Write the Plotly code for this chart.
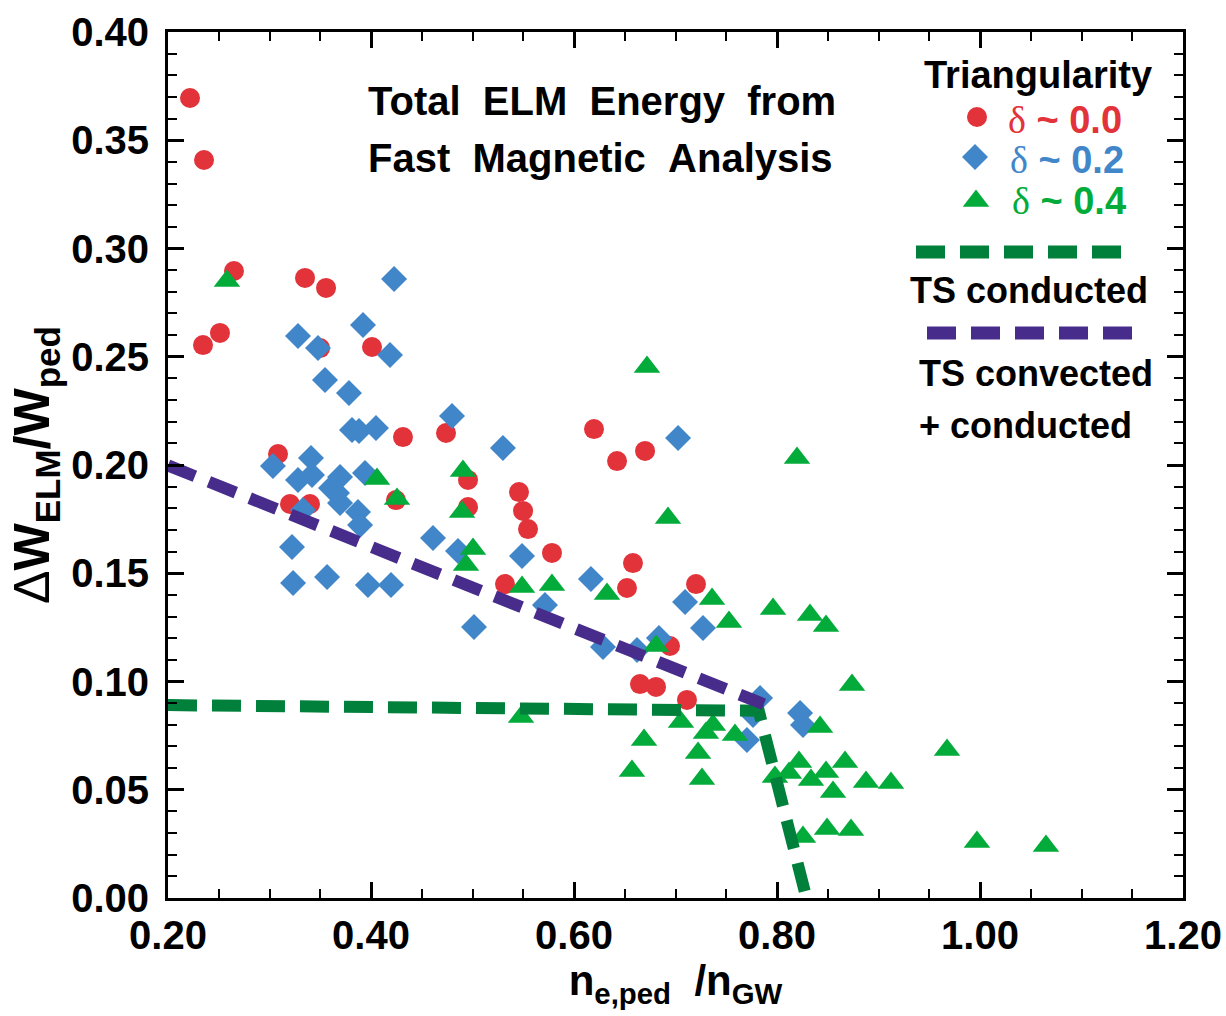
import plotly.graph_objects as go

# ---- data: normalized pedestal density vs. ELM energy fraction ----
# delta ~ 0.0
red_x = [0.2217, 0.2355, 0.2650, 0.2345, 0.2512, 0.3350, 0.3557, 0.3498, 0.4010, 0.3084,
         0.3202, 0.3399, 0.4246, 0.4315, 0.4739, 0.4956, 0.4956, 0.5320, 0.5458, 0.5498,
         0.5547, 0.5783, 0.6197, 0.6424, 0.6700, 0.6581, 0.6522, 0.7202, 0.6946, 0.6650,
         0.6808, 0.7113]
red_y = [0.3695, 0.3409, 0.2896, 0.2554, 0.2610, 0.2864, 0.2818, 0.2540, 0.2545, 0.2051,
         0.1820, 0.1820, 0.1838, 0.2129, 0.2148, 0.1931, 0.1806, 0.1450, 0.1875, 0.1788,
         0.1704, 0.1594, 0.2166, 0.2018, 0.2065, 0.1547, 0.1432, 0.1450, 0.1164, 0.0988,
         0.0975, 0.0915]

# delta ~ 0.2
blue_x = [0.4227, 0.3921, 0.3281, 0.3478, 0.4187, 0.3547, 0.3783, 0.3813, 0.3882, 0.4049,
          0.4798, 0.5300, 0.7025, 0.3034, 0.3409, 0.3281, 0.3419, 0.3695, 0.3606, 0.3665,
          0.3695, 0.3941, 0.3872, 0.3892, 0.3330, 0.3222, 0.3232, 0.3567, 0.3970, 0.4197,
          0.4611, 0.4857, 0.5488, 0.5714, 0.6167, 0.7094, 0.7271, 0.5015, 0.6286, 0.6621,
          0.6837, 0.7833, 0.7764, 0.7704, 0.8227, 0.8256]
blue_y = [0.2859, 0.2647, 0.2596, 0.2540, 0.2508, 0.2393, 0.2333, 0.2162, 0.2157, 0.2171,
          0.2226, 0.2079, 0.2125, 0.1995, 0.2032, 0.1931, 0.1954, 0.1945, 0.1894, 0.1871,
          0.1824, 0.1963, 0.1783, 0.1723, 0.1792, 0.1621, 0.1455, 0.1483, 0.1446, 0.1446,
          0.1663, 0.1603, 0.1580, 0.1353, 0.1473, 0.1367, 0.1247, 0.1252, 0.1159, 0.1146,
          0.1201, 0.0924, 0.0845, 0.0730, 0.0855, 0.0799]

# delta ~ 0.4
green_x = [0.2581, 0.4059, 0.4256, 0.6719, 0.4906, 0.4897, 0.5005, 0.4936, 0.5488, 0.5783,
           0.6926, 0.6325, 0.7360, 0.7527, 0.7961, 0.8325, 0.8483, 0.6808, 0.8739, 0.7054,
           0.7369, 0.7300, 0.7586, 0.6690, 0.7222, 0.6571, 0.7261, 0.8424, 0.8217, 0.8118,
           0.7980, 0.8670, 0.8483, 0.8335, 0.8552, 0.8877, 0.9123, 0.8256, 0.8493, 0.8729,
           0.9675, 0.9970, 1.0650, 0.8197, 0.5478]
green_y = [0.2850, 0.1935, 0.1843, 0.2453, 0.1972, 0.1783, 0.1612, 0.1538, 0.1436, 0.1446,
           0.1755, 0.1404, 0.1381, 0.1275, 0.1335, 0.1307, 0.1256, 0.1164, 0.0984, 0.0813,
           0.0799, 0.0762, 0.0753, 0.0730, 0.0670, 0.0587, 0.0550, 0.0790, 0.0628, 0.0577,
           0.0559, 0.0628, 0.0582, 0.0545, 0.0490, 0.0536, 0.0531, 0.0282, 0.0319, 0.0314,
           0.0684, 0.0259, 0.0240, 0.2032, 0.0836]

# model curves
conducted_x = [0.20, 0.782, 0.829]
conducted_y = [0.0891, 0.0865, 0.0]
convected_x = [0.20, 0.787]
convected_y = [0.1998, 0.0895]

legend_labels = ["0.0", "0.2", "0.4"]

# ---- styling ----
RED = "#E2323A"
BLUE = "#4186C8"
GREEN = "#03AB3B"
DKGREEN = "#00803A"
PURPLE = "#482C8C"
SANS = "Liberation Sans Narrow, Liberation Sans, Arial, sans-serif"
SERIF = "Liberation Serif, DejaVu Serif, serif"
DASH = "29px,15px"

W, H = 1226, 1016
L, R, T, B = 168, 43, 32, 118
PW, PH = W - L - R, H - T - B
X0, X1, Y0, Y1 = 0.2, 1.2, 0.0, 0.4


def to_x(px):
    return X0 + (px - L) / PW * (X1 - X0)


def to_y(py):
    return Y0 + (H - B - py) / PH * (Y1 - Y0)


fig = go.Figure()

fig.add_trace(go.Scatter(x=red_x, y=red_y, mode="markers", cliponaxis=False,
                         marker=dict(symbol="circle", size=20, color=RED)))
fig.add_trace(go.Scatter(x=blue_x, y=blue_y, mode="markers", cliponaxis=False,
                         marker=dict(symbol="diamond", size=20, color=BLUE)))
fig.add_trace(go.Scatter(x=green_x, y=green_y, mode="markers", cliponaxis=False,
                         marker=dict(symbol="triangle-up", size=23, color=GREEN)))

fig.add_trace(go.Scatter(x=conducted_x, y=conducted_y, mode="lines",
                         line=dict(color=DKGREEN, width=12, dash=DASH)))
fig.add_trace(go.Scatter(x=convected_x, y=convected_y, mode="lines",
                         line=dict(color=PURPLE, width=12, dash=DASH)))

# legend keys (symbols)
fig.add_trace(go.Scatter(x=[to_x(977)], y=[to_y(117)], mode="markers", cliponaxis=False,
                         marker=dict(symbol="circle", size=20, color=RED)))
fig.add_trace(go.Scatter(x=[to_x(975)], y=[to_y(157)], mode="markers", cliponaxis=False,
                         marker=dict(symbol="diamond", size=20, color=BLUE)))
fig.add_trace(go.Scatter(x=[to_x(976)], y=[to_y(201)], mode="markers", cliponaxis=False,
                         marker=dict(symbol="triangle-up", size=23, color=GREEN)))

# legend keys (dashed lines)
fig.add_shape(type="line", xref="x", yref="y", x0=to_x(916), x1=to_x(1122),
              y0=to_y(252), y1=to_y(252), line=dict(color=DKGREEN, width=13, dash=DASH))
fig.add_shape(type="line", xref="x", yref="y", x0=to_x(927), x1=to_x(1133),
              y0=to_y(333), y1=to_y(333), line=dict(color=PURPLE, width=13, dash=DASH))


def note(text, px, py, size=40, color="black", anchor="center"):
    fig.add_annotation(text=text, x=to_x(px), y=to_y(py), xref="x", yref="y",
                       showarrow=False, xanchor=anchor, yanchor="middle",
                       font=dict(family=SANS, size=size, color=color, weight="bold"))


SP = "\u00a0\u00a0"
note(f"Total{SP}ELM{SP}Energy{SP}from", 366, 101, size=40, anchor="left")
note(f"Fast{SP}Magnetic{SP}Analysis", 366, 158, size=40, anchor="left")

note("Triangularity", 1038, 75, size=38)
for lab, col, px, py in zip(legend_labels, [RED, BLUE, GREEN], [1006, 1008, 1010], [120, 160, 201]):
    note(f"<span style='font-family:{SERIF};font-weight:normal'>δ</span> ~ {lab}",
         px, py, size=38, color=col, anchor="left")
note("TS conducted", 1029, 290, size=36)
note("TS convected", 1036, 373, size=36)
note("+ conducted", 1025, 425, size=36)

axis_common = dict(
    showline=True, linecolor="black", linewidth=3, mirror="allticks",
    ticks="inside", ticklen=16, tickwidth=2.5, tickcolor="black",
    showgrid=False, zeroline=False, tickformat=".2f",
    tickfont=dict(family=SANS, size=40, color="black", weight="bold"),
)

fig.update_xaxes(range=[X0, X1], dtick=0.2, tick0=0.2,
                 minor=dict(dtick=0.05, ticks="inside", ticklen=9, tickwidth=2, tickcolor="black"),
                 ticklabelstandoff=0,
                 title=dict(text="n<sub>e,ped</sub>\u00a0\u00a0/n<sub>GW</sub>",
                            font=dict(family=SANS, size=42, color="black", weight="bold"),
                            standoff=6),
                 **axis_common)
fig.update_yaxes(range=[Y0, Y1], dtick=0.05, tick0=0,
                 minor=dict(dtick=0.01, ticks="inside", ticklen=9, tickwidth=2, tickcolor="black"),
                 ticklabelstandoff=8,
                 title=dict(text="<span style='font-weight:normal'>Δ</span>W<sub>ELM</sub>/W<sub>ped</sub>",
                            font=dict(family=SANS, size=50, color="black", weight="bold"),
                            standoff=6),
                 **axis_common)

fig.update_layout(
    width=W, height=H, showlegend=False,
    margin=dict(l=L, r=R, t=T, b=B, autoexpand=False),
    paper_bgcolor="white", plot_bgcolor="white",
)

fig.write_html("out.html")
